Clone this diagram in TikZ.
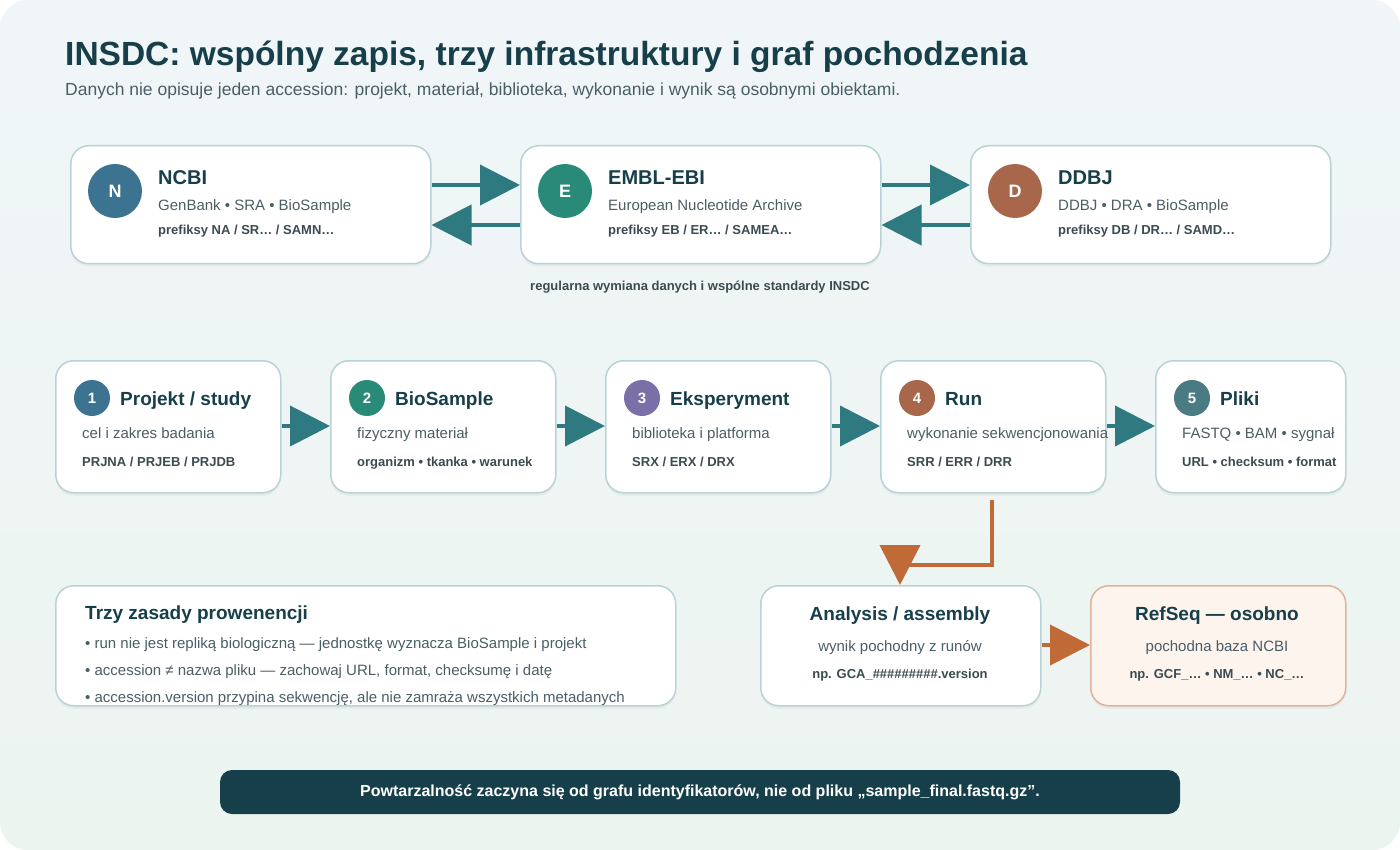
\documentclass[tikz,border=0pt]{standalone}
\usepackage{fontspec}
\setmainfont{Liberation Sans}
\usetikzlibrary{arrows.meta,shadows}
\definecolor{ink}{HTML}{173F4A}
\definecolor{sub}{HTML}{4A5E66}
\definecolor{teal}{HTML}{2F7A80}
\definecolor{ora}{HTML}{C06A38}
\definecolor{bd}{HTML}{B9D2D6}
\definecolor{cN}{HTML}{3B7390}
\definecolor{cE}{HTML}{2A8A78}
\definecolor{cD}{HTML}{A8664A}
\definecolor{cP}{HTML}{7B6FA8}
\definecolor{cF}{HTML}{4A7A82}
\tikzset{
 box/.style={draw=bd,line width=1.5pt,fill=white,rounded corners=18pt,drop shadow={opacity=0.08,shadow xshift=0pt,shadow yshift=-3pt}},
 circ/.style={circle,fill=#1,text=white,font=\fontsize{18}{20}\selectfont\bfseries,inner sep=0pt},
 ttl/.style={anchor=base west,inner sep=0pt,text=ink,font=\fontsize{19}{22}\selectfont\bfseries},
 l2/.style={anchor=base west,inner sep=0pt,text=sub,font=\fontsize{15}{18}\selectfont},
 l3/.style={anchor=base west,inner sep=0pt,text=sub!80!black,font=\fontsize{13}{15}\selectfont\bfseries},
 tar/.style={draw=teal,line width=4pt,-{Triangle[length=40pt,width=40pt]}},
 oar/.style={draw=ora,line width=4pt,-{Triangle[length=40pt,width=40pt]}},
}
\begin{document}
\begin{tikzpicture}[x=1pt,y=-1pt]
\useasboundingbox (0,0) rectangle (1400,850);
\fill[white] (0,0) rectangle (1400,850);
\shade[rounded corners=28pt,top color={rgb,255:red,240;green,246;blue,248},bottom color={rgb,255:red,236;green,244;blue,240}] (0,0) rectangle (1400,850);
\node[anchor=base west,inner sep=0pt,text=ink,font=\fontsize{33.5}{40}\selectfont\bfseries] (title) at (65,66) {INSDC: wspólny zapis, trzy infrastruktury i graf pochodzenia};
\node[anchor=base west,inner sep=0pt,text=sub,font=\fontsize{17.5}{20}\selectfont] (subt) at (65,96) {Danych nie opisuje jeden accession: projekt, materiał, biblioteka, wykonanie i wynik są osobnymi obiektami.};
% top boxes
\foreach \n/\x/\l/\c/\t/\a/\b in {ncbi/70/N/cN/NCBI/{GenBank • SRA • BioSample}/{prefiksy NA / SR… / SAMN…}, embl/520/E/cE/EMBL-EBI/{European Nucleotide Archive}/{prefiksy EB / ER… / SAMEA…}, ddbj/970/D/cD/DDBJ/{DDBJ • DRA • BioSample}/{prefiksy DB / DR… / SAMD…}}{
 \node[box,minimum width=360pt,minimum height=118pt,anchor=north west] (\n) at (\x,145) {};
 \node[circ=\c,minimum size=54pt] (\n c) at (\x+45,191) {\l};
 \node[ttl,font=\fontsize{20}{22}\selectfont\bfseries] (\n t) at (\x+88,185) {\t};
 \node[l2] (\n a) at (\x+88,211) {\a};
 \node[l3] (\n b) at (\x+88,235) {\b};
}
\draw[tar] (ncbi.east|-0,185) -- (embl.west|-0,185);
\draw[tar] (embl.west|-0,225) -- (ncbi.east|-0,225);
\draw[tar] (embl.east|-0,185) -- (ddbj.west|-0,185);
\draw[tar] (ddbj.west|-0,225) -- (embl.east|-0,225);
\node[text=sub!80!black,font=\fontsize{13}{15}\selectfont\bfseries] (ex) at (700,287) {regularna wymiana danych i wspólne standardy INSDC};
% row 2
\foreach \n/\x/\w in {p1/55/225, p2/330/225, p3/605/225, p4/880/225, p5/1155/190}{
 \node[box,minimum width=\w pt,minimum height=132pt,anchor=north west] (\n) at (\x,360) {};
}
\foreach \n/\x/\c/\k/\t/\a/\b in {p1/55/cN/1/{Projekt / study}/{cel i zakres badania}/{PRJNA / PRJEB / PRJDB}, p2/330/cE/2/BioSample/{fizyczny materiał}/{organizm • tkanka • warunek}, p3/605/cP/3/Eksperyment/{biblioteka i platforma}/{SRX / ERX / DRX}, p4/880/cD/4/Run/{wykonanie sekwencjonowania}/{SRR / ERR / DRR}, p5/1155/cF/5/Pliki/{FASTQ • BAM • sygnał}/{URL • checksum • format}}{
 \node[circ=\c,minimum size=36pt,font=\fontsize{15}{17}\selectfont\bfseries] (\n c) at (\x+37,398) {\k};
 \node[ttl] (\n t) at (\x+65,405) {\t};
 \node[l2] (\n a) at (\x+27,438) {\a};
 \node[l3] (\n b) at (\x+27,466) {\b};
}
\foreach \a/\b in {p1/p2,p2/p3,p3/p4,p4/p5}{\draw[tar] (\a.east|-0,426) -- (\b.west|-0,426);}
% bottom
\node[box,minimum width=620pt,minimum height=120pt,anchor=north west] (rules) at (55,585) {};
\node[ttl] (rt) at (85,619) {Trzy zasady prowenencji};
\node[l2] (r1) at (85,648) {• run nie jest repliką biologiczną — jednostkę wyznacza BioSample i projekt};
\node[l2] (r2) at (85,675) {• accession ≠ nazwa pliku — zachowaj URL, format, checksumę i datę};
\node[l2] (r3) at (85,702) {• accession.version przypina sekwencję, ale nie zamraża wszystkich metadanych};
\node[box,minimum width=280pt,minimum height=120pt,anchor=north west] (an) at (760,585) {};
\node[text=ink,font=\fontsize{19}{22}\selectfont\bfseries] at (900,616) {Analysis / assembly};
\node[text=sub,font=\fontsize{15}{18}\selectfont] at (900,648) {wynik pochodny z runów};
\node[text=sub!80!black,font=\fontsize{13}{15}\selectfont\bfseries] at (900,675) {np. GCA\_\#\#\#\#\#\#\#\#\#.version};
\node[box,draw={rgb,255:red,220;green,180;blue,156},fill={rgb,255:red,253;green,244;blue,238},minimum width=255pt,minimum height=120pt,anchor=north west] (rs) at (1090,585) {};
\node[text=ink,font=\fontsize{19}{22}\selectfont\bfseries] at (1217,616) {RefSeq — osobno};
\node[text=sub,font=\fontsize{15}{18}\selectfont] at (1217,648) {pochodna baza NCBI};
\node[text=sub!80!black,font=\fontsize{13}{15}\selectfont\bfseries] at (1217,675) {np. GCF\_… • NM\_… • NC\_…};
\coordinate (k1) at (992,500);
\draw[draw=ora,line width=4pt] (k1) |- (902,565);
\draw[oar] (900,565) -- (an.north-|900,0);
\draw[oar] (an.east|-0,645) -- (rs.west|-0,645);
\node[fill=ink,rounded corners=12pt,minimum width=960pt,minimum height=44pt,text=white,font=\fontsize{16}{18}\selectfont\bfseries] (foot) at (700,792) {Powtarzalność zaczyna się od grafu identyfikatorów, nie od pliku „sample\_final.fastq.gz”.};
\end{tikzpicture}
\end{document}
